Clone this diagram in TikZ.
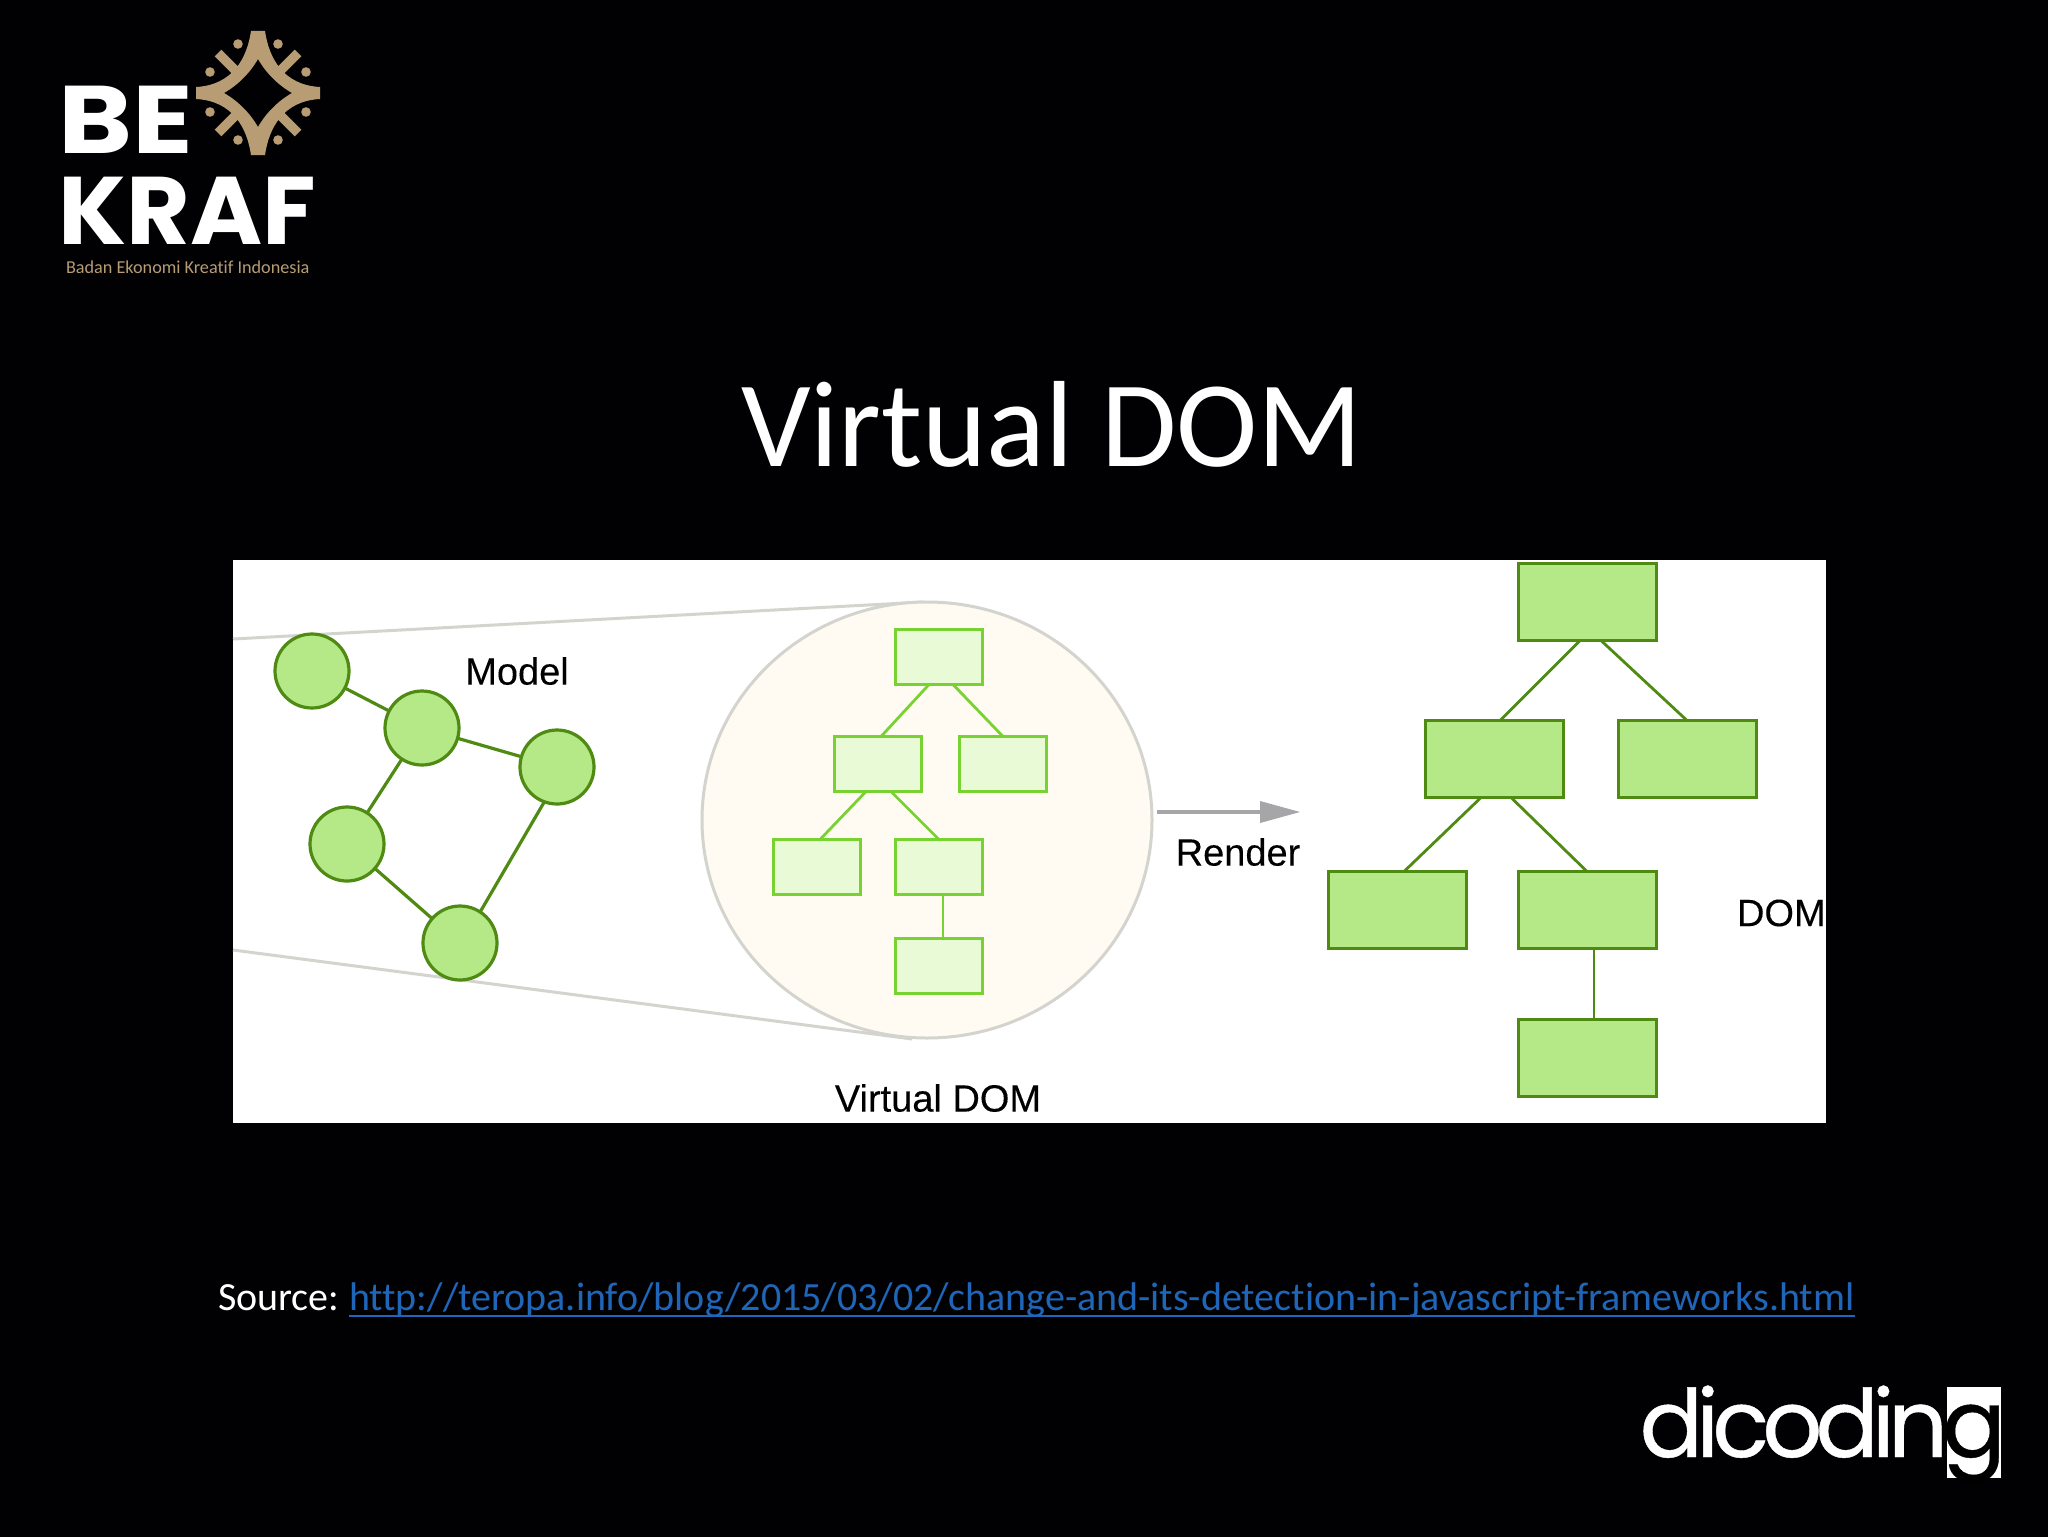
\documentclass[tikz,border=0pt]{standalone}
\usepackage{xcolor}
\usepackage{fontspec}
\setmainfont[Ligatures=NoCommon]{Carlito}
\newfontfamily\labelfont[FakeBold=0.2]{Liberation Sans}
\newfontfamily\befont[FakeStretch=1.17]{Poppins}
\newfontfamily\krafont[FakeStretch=1.02]{Poppins}
\newfontfamily\dicofont[FakeBold=0.45,LetterSpace=-7.5]{Poppins}
\usepackage{tikz}
\usetikzlibrary{shapes.geometric}
\definecolor{slideblack}{HTML}{010103}
\definecolor{linkblue}{HTML}{1F66B8}
\definecolor{logogold}{HTML}{B79C74}
\definecolor{leaffill}{HTML}{B5E886}
\definecolor{leafline}{HTML}{4F8A12}
\definecolor{paleleaf}{HTML}{E8FBD6}
\definecolor{brightleaf}{HTML}{78D232}
\definecolor{lensfill}{HTML}{FFFBF3}
\definecolor{lensline}{HTML}{D4D4CE}
\definecolor{arrowgrey}{HTML}{A6A6A8}

\begin{document}
\begin{tikzpicture}
            [
                x=0.5pt, y=-0.5pt,
                inner sep=0pt, outer sep=0pt
            ]
            \tikzset{
                modelnode/.style = {circle, draw=leafline, fill=leaffill, line width=1.6pt, minimum size=37pt},
                domnode/.style = {rectangle, draw=leafline, fill=leaffill, line width=1.5pt, minimum width=69pt, minimum height=38.5pt},
                vdomnode/.style = {rectangle, draw=brightleaf, fill=paleleaf, line width=1.4pt, minimum width=43.5pt, minimum height=27.5pt},
                modeledge/.style = {draw=leafline, line width=1.6pt},
                domedge/.style = {draw=leafline, line width=1.4pt},
                vdomedge/.style = {draw=brightleaf, line width=1.4pt},
                lensedge/.style = {draw=lensline, line width=1.5pt},
                panellabel/.style = {font=\labelfont\fontsize{19}{21}\selectfont, text=black},
                logodot/.style = {circle, fill=logogold, minimum size=4.8pt}
            }
            \useasboundingbox (0,0) rectangle (2048,1536);
            \fill[slideblack] (-10,-10) rectangle (2058,1546);

            % title and source line
            \node[text=white] (title) at (1052,424) {\fontsize{61.3}{66}\selectfont Virtual DOM};
            \node[anchor=base west, text=white] (source) at (218,1310)
                {\fontsize{20}{24}\selectfont Source:};
            \node[anchor=base west, text=linkblue] (link) at (349,1310)
                {\fontsize{20}{24}\selectfont http://teropa.info/blog/2015/03/02/change-and-its-detection-in-javascript-frameworks.html};
            \draw[linkblue, line width=1.3pt] ([yshift=-3pt]link.base west) -- ([yshift=-3pt]link.base east);

            % white panel
            \fill[white] (233,560) rectangle (1826,1123);

            % lens
            \coordinate (lensleftup) at (233,639);
            \coordinate (lensleftdown) at (233,950);
            \coordinate (lenstop) at (924,602);
            \coordinate (lensbottom) at (912,1039);
            \draw[lensedge] (lensleftup) -- (lenstop);
            \draw[lensedge] (lensleftdown) -- (lensbottom);
            \node[ellipse, draw=lensline, fill=lensfill, line width=1.5pt, minimum width=225pt, minimum height=218pt] (lens) at (927,820) {};

            % model
            \node[modelnode] (m1) at (312,671) {};
            \node[modelnode] (m2) at (422,728) {};
            \node[modelnode] (m3) at (557,767) {};
            \node[modelnode] (m4) at (347,844) {};
            \node[modelnode] (m5) at (460,943) {};
            \draw[modeledge] (m1) -- (m2);
            \draw[modeledge] (m2) -- (m3);
            \draw[modeledge] (m2) -- (m4);
            \draw[modeledge] (m4) -- (m5);
            \draw[modeledge] (m3.250) -- (m5.57);
            \node[panellabel] (modellabel) at (517,671) {Model};

            % virtual tree
            \node[vdomnode] (vT) at (939,657) {};
            \node[vdomnode] (vL) at (878,764) {};
            \node[vdomnode] (vR) at (1003,764) {};
            \node[vdomnode] (vLL) at (817,867) {};
            \node[vdomnode] (vLR) at (939,867) {};
            \node[vdomnode] (vLRB) at (939,966) {};
            \draw[vdomedge] ([xshift=-5pt]vT.south) -- ([xshift=1.5pt]vL.north);
            \draw[vdomedge] ([xshift=7pt]vT.south) -- (vR.north);
            \draw[vdomedge] ([xshift=-6pt]vL.south) -- ([xshift=1.5pt]vLL.north);
            \draw[vdomedge] ([xshift=6.5pt]vL.south) -- (vLR.north);
            \draw[vdomedge] ([xshift=2pt]vLR.south) -- ([xshift=2pt]vLRB.north);
            \node[panellabel] (vdomlabel) at (938,1098) {Virtual DOM};

            % render arrow
            \coordinate (renderstart) at (1157,812);
            \coordinate (renderend) at (1300,812);
            \coordinate (renderneck) at (1262,812);
            \draw[arrowgrey, line width=1.9pt] (renderstart) -- (renderneck);
            \fill[arrowgrey] (renderend) -- (1260,801) -- (1260,823) -- cycle;
            \node[panellabel] (renderlabel) at (1238,852) {Render};

            % real tree
            \node[domnode] (T) at (1587,602) {};
            \node[domnode] (L) at (1494,759) {};
            \node[domnode] (R) at (1687,759) {};
            \node[domnode] (LL) at (1397,910) {};
            \node[domnode] (LR) at (1587,910) {};
            \node[domnode] (LRB) at (1587,1058) {};
            \draw[domedge] ([xshift=-3.5pt]T.south) -- ([xshift=3pt]L.north);
            \draw[domedge] ([xshift=7pt]T.south) -- (R.north);
            \draw[domedge] ([xshift=-6.5pt]L.south) -- ([xshift=3.5pt]LL.north);
            \draw[domedge] ([xshift=8.5pt]L.south) -- (LR.north);
            \draw[domedge] ([xshift=3.5pt]LR.south) -- ([xshift=3.5pt]LRB.north);
            \node[panellabel, anchor=west] (domlabel) at (1737,913) {DOM};

            % logo star
            \begin{scope}[shift={(258,93)}]
                \foreach \sx in {-1,1}
                    \foreach \sy in {-1,1}
                        \draw[logogold, line width=4.7pt] (\sx*18,\sy*18) -- (\sx*40,\sy*40);
                \fill[logogold, even odd rule]
                    (-7,-62) -- (7,-62)
                    .. controls (11,-35) and (25,-8) .. (62,-6)
                    -- (62,6)
                    .. controls (25,8) and (11,35) .. (7,62)
                    -- (-7,62)
                    .. controls (-11,35) and (-25,8) .. (-62,6)
                    -- (-62,-6)
                    .. controls (-25,-8) and (-11,-35) .. (-7,-62) -- cycle
                    (0,-34) .. controls (8,-20) and (20,-8) .. (34,0)
                    .. controls (20,8) and (8,20) .. (0,34)
                    .. controls (-8,20) and (-20,8) .. (-34,0)
                    .. controls (-20,-8) and (-8,-20) .. (0,-34) -- cycle;
            \end{scope}
            \foreach \name/\dotx/\doty in {a/238/44, b/278/44, c/210/72, d/306/72, e/210/112, f/306/112, g/238/140, h/278/140}
                \node[logodot] (dot\name) at (\dotx,\doty) {};

            % logo text
            \node[anchor=base west, text=white] (be) at (58,154) {\befont\bfseries\fontsize{48}{50}\selectfont BE};
            \node[anchor=base west, text=white] (kraf) at (58,244) {\krafont\bfseries\fontsize{48}{50}\selectfont KRAF};
            \node[anchor=west, text=logogold] (badan) at (66,267) {\fontsize{9.1}{10}\selectfont Badan Ekonomi Kreatif Indonesia};

            % dicoding mark
            \node[rectangle, fill=white, minimum width=27pt, minimum height=45.5pt] (gbox) at (1974,1432.5) {};
            \node[anchor=base east, text=white] (dico) at (1948,1457) {\dicofont\fontsize{47}{50}\selectfont dicodin};
            \node[anchor=base, text=black] (gletter) at (1974,1457) {\dicofont\fontsize{47}{50}\selectfont g};
        \end{tikzpicture}
\end{document}
